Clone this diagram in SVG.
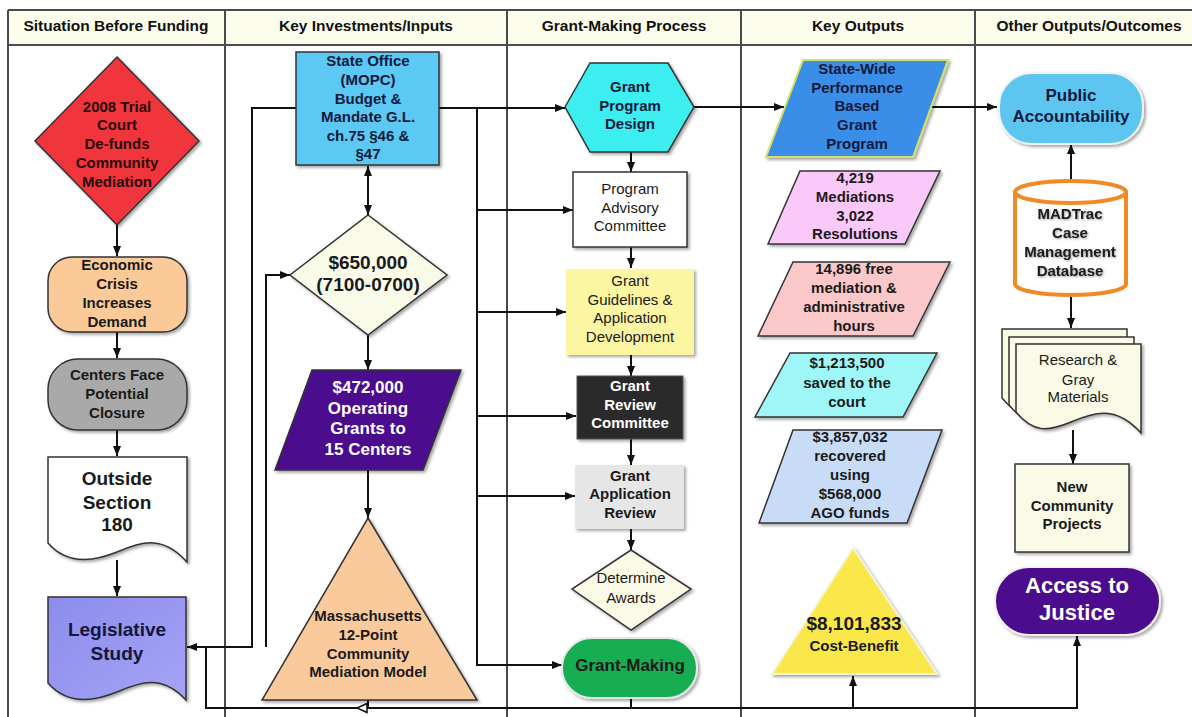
<svg xmlns="http://www.w3.org/2000/svg" width="1192" height="717" viewBox="0 0 1192 717">
  <style>
    text { font-family: "Liberation Sans", Arial, sans-serif; text-anchor: middle; fill: #1a1a1a; }
    .b { font-weight: bold; }
    .hd { font-size: 15.5px; font-weight: bold; fill: #111; }
    .t15 { font-size: 15px; }
    .t17 { font-size: 17px; }
    .t19 { font-size: 19px; }
    .t22 { font-size: 22px; }
    .navy { fill: #0e1a3c; }
    .wt { fill: #ffffff; }
    .grid { stroke: #4a4a4a; stroke-width: 2; fill: none; }
    .ln { stroke: #111; stroke-width: 2; fill: none; }
    .sh { filter: url(#shadow); }
    .edge { stroke: #333; stroke-width: 1.5; }
  </style>
  <defs>
    <marker id="arr" viewBox="0 0 10 8" refX="10" refY="4" markerWidth="10" markerHeight="8" markerUnits="userSpaceOnUse" orient="auto-start-reverse">
      <path d="M0,0 L10,4 L0,8 z" fill="#111"/>
    </marker>
    <filter id="shadow" x="-10%" y="-10%" width="125%" height="125%">
      <feDropShadow dx="2" dy="2" stdDeviation="1.5" flood-color="#000" flood-opacity="0.35"/>
    </filter>
    <filter id="tshadow" x="-10%" y="-20%" width="120%" height="150%">
      <feDropShadow dx="1" dy="1" stdDeviation="1" flood-color="#000" flood-opacity="0.4"/>
    </filter>
    <linearGradient id="legis" x1="0" y1="0" x2="1" y2="1">
      <stop offset="0" stop-color="#8c8cec"/>
      <stop offset="1" stop-color="#a4a4f6"/>
    </linearGradient>
  </defs>

  <!-- swimlane table -->
  <g id="table">
    <rect x="8" y="10" width="1184" height="35" fill="#fdfdeb"/>
    <line class="grid" x1="8" y1="10" x2="1192" y2="10"/>
    <line class="grid" x1="8" y1="45" x2="1192" y2="45"/>
    <line class="grid" x1="8" y1="10" x2="8" y2="717"/>
    <line class="grid" x1="225" y1="10" x2="225" y2="717"/>
    <line class="grid" x1="507" y1="10" x2="507" y2="717"/>
    <line class="grid" x1="741" y1="10" x2="741" y2="717"/>
    <line class="grid" x1="975" y1="10" x2="975" y2="717"/>
    <text class="hd" x="116" y="31">Situation Before Funding</text>
    <text class="hd" x="366" y="31">Key Investments/Inputs</text>
    <text class="hd" x="624" y="31">Grant-Making Process</text>
    <text class="hd" x="858" y="31">Key Outputs</text>
    <text class="hd" x="1089" y="31">Other Outputs/Outcomes</text>
  </g>

  <!-- connectors -->
  <g id="connectors">
    <path class="ln" d="M117,225 V256" marker-end="url(#arr)"/>
    <path class="ln" d="M117,332 V358" marker-end="url(#arr)"/>
    <path class="ln" d="M117,430 V456" marker-end="url(#arr)"/>
    <path class="ln" d="M117,560 V596" marker-end="url(#arr)"/>
    <path class="ln" d="M296,108 H252 V647 H187" marker-end="url(#arr)"/>
    <path class="ln" d="M266,647 V275 H290" marker-end="url(#arr)"/>
    <path class="ln" d="M206,647 V708 H1077 V636" marker-end="url(#arr)"/>
    <path class="ln" d="M368,166 V215" marker-start="url(#arr)" marker-end="url(#arr)"/>
    <path class="ln" d="M368,335 V370" marker-end="url(#arr)"/>
    <path class="ln" d="M368,470 V518" marker-end="url(#arr)"/>
    <path class="ln" d="M368,700 V708"/>
    <polygon points="357,708 367,703.5 367,712.5" fill="#fff" stroke="#111" stroke-width="1.5"/>
    <path class="ln" d="M439,108 H565" marker-end="url(#arr)"/>
    <path class="ln" d="M477,108 V665 H562" marker-end="url(#arr)"/>
    <path class="ln" d="M477,210 H573" marker-end="url(#arr)"/>
    <path class="ln" d="M477,312 H566" marker-end="url(#arr)"/>
    <path class="ln" d="M477,416 H576" marker-end="url(#arr)"/>
    <path class="ln" d="M477,496 H575" marker-end="url(#arr)"/>
    <path class="ln" d="M631,152 V172" marker-end="url(#arr)"/>
    <path class="ln" d="M631,247 V268" marker-end="url(#arr)"/>
    <path class="ln" d="M631,355 V376" marker-end="url(#arr)"/>
    <path class="ln" d="M631,439 V465" marker-end="url(#arr)"/>
    <path class="ln" d="M631,529 V550" marker-end="url(#arr)"/>
    <path class="ln" d="M631,698 V708"/>
    <path class="ln" d="M694,107 H784" marker-end="url(#arr)"/>
    <path class="ln" d="M931,107 H997" marker-end="url(#arr)"/>
    <path class="ln" d="M853,708 V676" marker-end="url(#arr)"/>
    <path class="ln" d="M1071,180 V144" stroke-width="3" marker-end="url(#arr)"/>
    <path class="ln" d="M1071,296 V328" marker-end="url(#arr)"/>
    <path class="ln" d="M1073,430 V464" marker-end="url(#arr)"/>
  </g>

  <!-- Situation Before Funding -->
  <g id="trial-court">
    <polygon class="sh edge" points="117,57 199,141 117,225 35,141" fill="#f0343e"/>
    <text class="t15 b" fill="#2a0808" x="117" y="112" style="fill:#2a0808">2008 Trial</text>
    <text class="t15 b" x="117" y="130" style="fill:#2a0808">Court</text>
    <text class="t15 b" x="117" y="149" style="fill:#2a0808">De-funds</text>
    <text class="t15 b" x="117" y="168" style="fill:#2a0808">Community</text>
    <text class="t15 b" x="117" y="187" style="fill:#2a0808">Mediation</text>
  </g>
  <g id="economic-crisis">
    <rect class="sh edge" x="48" y="257" width="139" height="75" rx="24" fill="#fcca98"/>
    <text class="t15 b" x="117" y="270">Economic</text>
    <text class="t15 b" x="117" y="289">Crisis</text>
    <text class="t15 b" x="117" y="308">Increases</text>
    <text class="t15 b" x="117" y="327">Demand</text>
  </g>
  <g id="centers-face">
    <rect class="sh edge" x="48" y="359" width="139" height="71" rx="30" fill="#a9a9a9"/>
    <text class="t15 b" x="117" y="380">Centers Face</text>
    <text class="t15 b" x="117" y="399">Potential</text>
    <text class="t15 b" x="117" y="418">Closure</text>
  </g>
  <g id="outside-section">
    <path class="sh edge" d="M48,457 H187 V562 C162,534 140,542 117,552 C95,561 68,566 48,543 Z" fill="#ffffff"/>
    <text class="t19 b" x="117" y="485">Outside</text>
    <text class="t19 b" x="117" y="509">Section</text>
    <text class="t19 b" x="117" y="531">180</text>
  </g>
  <g id="legislative-study">
    <path class="sh edge" d="M48,597 H186 V700 C162,674 140,682 117,692 C95,701 68,706 48,683 Z" fill="url(#legis)"/>
    <text class="t19 b" x="117" y="636" style="fill:#14163c">Legislative</text>
    <text class="t19 b" x="117" y="660" style="fill:#14163c">Study</text>
  </g>

  <!-- Key Investments/Inputs -->
  <g id="state-office">
    <rect class="sh edge" x="296" y="52" width="143" height="113" fill="#5cc8f4"/>
    <text class="t15 b navy" x="368" y="66">State Office</text>
    <text class="t15 b navy" x="368" y="85">(MOPC)</text>
    <text class="t15 b navy" x="368" y="104">Budget &amp;</text>
    <text class="t15 b navy" x="368" y="122">Mandate G.L.</text>
    <text class="t15 b navy" x="368" y="141">ch.75 §46 &amp;</text>
    <text class="t15 b navy" x="368" y="159">§47</text>
  </g>
  <g id="appropriation">
    <polygon class="sh edge" points="368,215 447,275 368,335 290,275" fill="#fafae8"/>
    <text class="t19 b" x="368" y="269">$650,000</text>
    <text class="t19 b" x="368" y="291">(7100-0700)</text>
  </g>
  <g id="operating-grants">
    <polygon class="sh edge" points="312,370 461,370 423,470 275,470" fill="#4b0c8e"/>
    <text class="t17 b wt" x="368" y="393">$472,000</text>
    <text class="t17 b wt" x="368" y="414">Operating</text>
    <text class="t17 b wt" x="368" y="434">Grants to</text>
    <text class="t17 b wt" x="368" y="455">15 Centers</text>
  </g>
  <g id="mediation-model">
    <polygon class="sh edge" points="368,518 477,700 262,700" fill="#fbca9c"/>
    <text class="t15 b" x="368" y="621">Massachusetts</text>
    <text class="t15 b" x="368" y="640">12-Point</text>
    <text class="t15 b" x="368" y="659">Community</text>
    <text class="t15 b" x="368" y="677">Mediation Model</text>
  </g>

  <!-- Grant-Making Process -->
  <g id="program-design">
    <polygon class="sh edge" points="565,107 590,63 668,63 694,107 668,152 590,152" fill="#3ceef0"/>
    <text class="t15 b navy" x="630" y="92">Grant</text>
    <text class="t15 b navy" x="630" y="111">Program</text>
    <text class="t15 b navy" x="630" y="129">Design</text>
  </g>
  <g id="advisory-committee">
    <rect class="sh edge" x="573" y="172" width="114" height="75" fill="#ffffff"/>
    <text class="t15" x="630" y="194">Program</text>
    <text class="t15" x="630" y="213">Advisory</text>
    <text class="t15" x="630" y="231">Committee</text>
  </g>
  <g id="guidelines">
    <rect class="sh" x="566" y="269" width="128" height="86" fill="#fcf5a2"/>
    <text class="t15" x="630" y="286">Grant</text>
    <text class="t15" x="630" y="305">Guidelines &amp;</text>
    <text class="t15" x="630" y="323">Application</text>
    <text class="t15" x="630" y="342">Development</text>
  </g>
  <g id="review-committee">
    <rect class="sh" x="577" y="376" width="106" height="63" fill="#2a2a2a" stroke="#555" stroke-width="1"/>
    <text class="t15 b wt" x="630" y="391">Grant</text>
    <text class="t15 b wt" x="630" y="410">Review</text>
    <text class="t15 b wt" x="630" y="428">Committee</text>
  </g>
  <g id="application-review">
    <rect class="sh" x="575" y="465" width="109" height="64" fill="#e6e6e6"/>
    <text class="t15 b" x="630" y="481">Grant</text>
    <text class="t15 b" x="630" y="499">Application</text>
    <text class="t15 b" x="630" y="518">Review</text>
  </g>
  <g id="determine-awards">
    <polygon class="sh edge" points="631,550 691,589 631,630 572,589" fill="#fafae6"/>
    <text class="t15" x="631" y="583">Determine</text>
    <text class="t15" x="631" y="603">Awards</text>
  </g>
  <g id="grant-making">
    <rect class="sh" x="562" y="638" width="135" height="60" rx="30" fill="#12ad52" stroke="#e8e8e8" stroke-width="2"/>
    <text class="t17 b" x="630" y="671">Grant-Making</text>
  </g>

  <!-- Key Outputs -->
  <g id="grant-program">
    <polygon class="sh" points="803,60 948,60 913,157 766,157" fill="#3a8ee8" stroke="#d2e064" stroke-width="2"/>
    <text class="t15 b navy" x="857" y="74">State-Wide</text>
    <text class="t15 b navy" x="857" y="93">Performance</text>
    <text class="t15 b navy" x="857" y="111">Based</text>
    <text class="t15 b navy" x="857" y="130">Grant</text>
    <text class="t15 b navy" x="857" y="149">Program</text>
  </g>
  <g id="mediations">
    <polygon class="sh edge" points="800,171 940,171 905,244 768,244" fill="#fbc8fa"/>
    <text class="t15 b" x="855" y="183">4,219</text>
    <text class="t15 b" x="855" y="202">Mediations</text>
    <text class="t15 b" x="855" y="221">3,022</text>
    <text class="t15 b" x="855" y="239">Resolutions</text>
  </g>
  <g id="free-hours">
    <polygon class="sh edge" points="793,262 950,262 913,336 758,336" fill="#fac8c8"/>
    <text class="t15 b" x="854" y="274">14,896 free</text>
    <text class="t15 b" x="854" y="293">mediation &amp;</text>
    <text class="t15 b" x="854" y="312">administrative</text>
    <text class="t15 b" x="854" y="331">hours</text>
  </g>
  <g id="court-savings">
    <polygon class="sh edge" points="790,353 937,353 903,417 755,417" fill="#9ef6f6"/>
    <text class="t15 b" x="847" y="368">$1,213,500</text>
    <text class="t15 b" x="847" y="388">saved to the</text>
    <text class="t15 b" x="847" y="407">court</text>
  </g>
  <g id="ago-funds">
    <polygon class="sh edge" points="793,430 942,430 907,523 759,523" fill="#c8dcf8"/>
    <text class="t15 b" x="850" y="442">$3,857,032</text>
    <text class="t15 b" x="850" y="461">recovered</text>
    <text class="t15 b" x="850" y="480">using</text>
    <text class="t15 b" x="850" y="499">$568,000</text>
    <text class="t15 b" x="850" y="518">AGO funds</text>
  </g>
  <g id="cost-benefit">
    <polygon class="sh" points="853,548 937,674 772,674" fill="#fae84c" stroke="#f4f4d8" stroke-width="2"/>
    <text class="t19 b" x="854" y="630">$8,101,833</text>
    <text class="t15 b" x="854" y="651">Cost-Benefit</text>
  </g>

  <!-- Other Outputs/Outcomes -->
  <g id="public-accountability">
    <rect class="sh" x="999" y="73" width="144" height="71" rx="33" fill="#5cc6f0" stroke="#f2f2f2" stroke-width="2"/>
    <text class="t17 b navy" x="1071" y="101">Public</text>
    <text class="t17 b navy" x="1071" y="122">Accountability</text>
  </g>
  <g id="madtrac">
    <path d="M1015,192 V284 A55.5,11 0 0 0 1126,284 V192" fill="#ffffff" stroke="#f08a24" stroke-width="4"/>
    <ellipse cx="1070.5" cy="192" rx="55.5" ry="11" fill="#ffffff" stroke="#f08a24" stroke-width="4"/>
    <g filter="url(#tshadow)">
      <text class="t15 b" x="1070" y="219">MADTrac</text>
      <text class="t15 b" x="1070" y="238">Case</text>
      <text class="t15 b" x="1070" y="257">Management</text>
      <text class="t15 b" x="1070" y="276">Database</text>
    </g>
  </g>
  <g id="research">
    <path class="edge" d="M1002,329 H1127 V419 C1102,391 1080,398 1057,408 C1035,417 1020,420 1002,398 Z" fill="#fafae6"/>
    <path class="edge" d="M1009,337 H1134 V426 C1109,398 1087,405 1064,415 C1042,424 1027,427 1009,405 Z" fill="#fafae6"/>
    <path class="sh edge" d="M1016,344 H1141 V433 C1116,405 1094,412 1071,422 C1049,431 1034,434 1016,412 Z" fill="#fafae6"/>
    <text class="t15" x="1078" y="365">Research &amp;</text>
    <text class="t15" x="1078" y="385">Gray</text>
    <text class="t15" x="1078" y="402">Materials</text>
  </g>
  <g id="community-projects">
    <rect class="sh edge" x="1015" y="464" width="114" height="88" fill="#fafae6"/>
    <text class="t15 b" x="1072" y="492">New</text>
    <text class="t15 b" x="1072" y="511">Community</text>
    <text class="t15 b" x="1072" y="529">Projects</text>
  </g>
  <g id="access-to-justice">
    <rect class="sh" x="995" y="567" width="165" height="68" rx="34" fill="#4b0c8e" stroke="#f2f2f2" stroke-width="2"/>
    <text class="t22 b wt" x="1077" y="593">Access to</text>
    <text class="t22 b wt" x="1077" y="620">Justice</text>
  </g>
</svg>
